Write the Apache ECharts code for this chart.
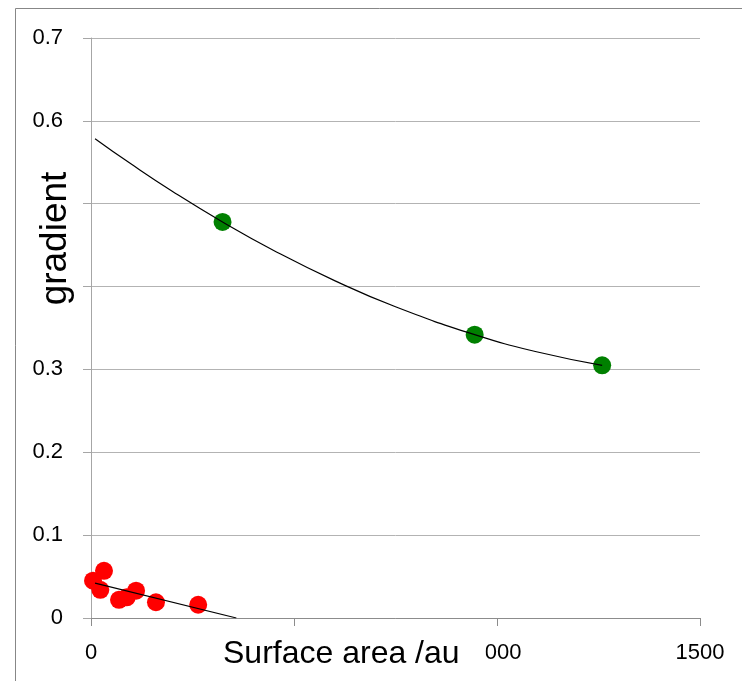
<!DOCTYPE html>
<html>
<head>
<meta charset="utf-8">
<script src="https://cdn.jsdelivr.net/npm/echarts@6/dist/echarts.min.js"></script>
<style>
html,body{margin:0;padding:0;background:#fff;}
#chart{width:742px;height:681px;}
</style>
</head>
<body>
<div id="chart"></div>
<script>
// Red series (small surface area)
const redX = [5, 32, 23, 69, 88, 111, 160, 264];
const redY = [0.045, 0.057, 0.034, 0.022, 0.025, 0.033, 0.019, 0.016];
// Green series (large surface area)
const greenX = [324, 945, 1259];
const greenY = [0.478, 0.342, 0.305];
// Trendlines
const redTrendX = [10, 358];
const redTrendY = [0.042, 0.0];
const greenTrendX = [10, 100, 200, 324, 450, 600, 750, 945, 1100, 1259];
const greenTrendY = [0.5785, 0.5475, 0.5151, 0.478, 0.4436, 0.4072, 0.3756, 0.342, 0.321, 0.305];
// Axis ticks
const xTicks = [0, 500, 1000, 1500];
const yTicks = [0, 0.1, 0.2, 0.3, 0.4, 0.5, 0.6, 0.7];
// Titles
const xTitle = 'Surface area /au';
const yTitle = 'gradient';

const FONT = "'Liberation Sans', Arial, sans-serif";
const pairs = (xs, ys) => xs.map((x, i) => [x, ys[i]]);

const chart = echarts.init(document.getElementById('chart'), null, {renderer: 'canvas'});
chart.setOption({
  animation: false,
  backgroundColor: '#fff',
  title: {
    text: xTitle,
    left: 223,
    top: 638,
    padding: [0, 26, 0, 0],
    backgroundColor: '#fff',
    textStyle: {fontFamily: FONT, fontSize: 32, fontWeight: 'normal', color: '#000'}
  },
  graphic: [{
    type: 'rect',
    silent: true,
    z: -1,
    shape: {x: 15.5, y: 8.5, width: 800, height: 800},
    style: {fill: 'none', stroke: '#878787', lineWidth: 1}
  }, {
    type: 'text',
    silent: true,
    z: 100,
    x: 74.5,
    y: 238.5,
    rotation: Math.PI / 2,
    style: {
      text: yTitle,
      font: "37px 'Liberation Sans', Arial, sans-serif",
      fill: '#000',
      align: 'center',
      verticalAlign: 'bottom',
      backgroundColor: '#fff',
      padding: [18, 6, 0, 6]
    }
  }],
  grid: {left: 91, top: 38, right: 42, bottom: 63, outerBoundsMode: 'none'},
  xAxis: {
    type: 'value',
    min: xTicks[0],
    max: xTicks[xTicks.length - 1],
    interval: 500,
    axisLine: {show: true, lineStyle: {color: '#8c8c8c', width: 1}},
    axisTick: {show: true, length: 8, lineStyle: {color: '#8c8c8c'}},
    splitLine: {show: false},
    axisLabel: {fontFamily: FONT, fontSize: 22, color: '#000', margin: 24,
      formatter: v => String(v)}
  },
  yAxis: {
    type: 'value',
    min: yTicks[0],
    max: yTicks[yTicks.length - 1],
    interval: 0.1,
    axisLine: {show: true, lineStyle: {color: '#a6a6a6', width: 1}},
    axisTick: {show: true, length: 8, lineStyle: {color: '#a6a6a6'}},
    splitLine: {show: true, lineStyle: {color: '#b3b3b3', width: 1}},
    axisLabel: {fontFamily: FONT, fontSize: 22, color: '#000', margin: 28,
      formatter: v => String(Math.round(v * 10) / 10)}
  },
  series: [
    {type: 'scatter', data: pairs(redX, redY), symbolSize: 18, itemStyle: {color: '#ff0000', opacity: 1}},
    {type: 'scatter', data: pairs(greenX, greenY), symbolSize: 18, itemStyle: {color: '#008000', opacity: 1}},
    {type: 'line', data: pairs(redTrendX, redTrendY), symbol: 'none', lineStyle: {color: '#000', width: 1.2}},
    {type: 'line', data: pairs(greenTrendX, greenTrendY), symbol: 'none', smooth: true, lineStyle: {color: '#000', width: 1.2}}
  ]
});
</script>
</body>
</html>
